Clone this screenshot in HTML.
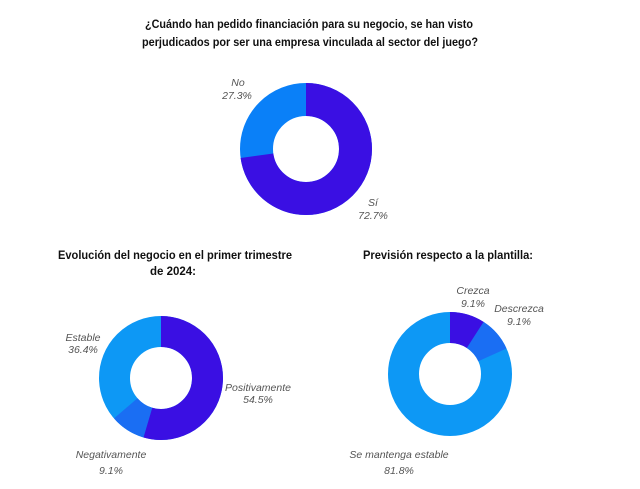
<!DOCTYPE html>
<html><head><meta charset="utf-8"><style>
html,body{margin:0;padding:0;background:#fff;}
svg{display:block}
.t{font-family:"Liberation Sans",sans-serif;font-weight:bold;font-size:11.5px;fill:#111}
.l{font-family:"Liberation Sans",sans-serif;font-style:italic;font-size:10.5px;fill:#555;text-anchor:middle}
</style></head><body>
<svg width="640" height="489" viewBox="0 0 640 489">
<rect width="640" height="489" fill="#fff"/>
<text class="t" x="145" y="28" textLength="328" lengthAdjust="spacingAndGlyphs">¿Cuándo han pedido financiación para su negocio, se han visto</text>
<text class="t" x="142" y="46" textLength="336" lengthAdjust="spacingAndGlyphs">perjudicados por ser una empresa vinculada al sector del juego?</text>
<text class="t" x="58" y="259" textLength="234" lengthAdjust="spacingAndGlyphs">Evolución del negocio en el primer trimestre</text>
<text class="t" x="173" y="275" text-anchor="middle">de 2024:</text>
<text class="t" x="363" y="259" textLength="170" lengthAdjust="spacingAndGlyphs">Previsión respecto a la plantilla:</text>

<g transform="translate(306,149) rotate(-90)" fill="none" stroke-width="33">
<circle r="49.5" stroke="#0a80f8"/>
<circle r="49.5" stroke="#3a0fe3" stroke-dasharray="226.1 400"/>
</g>
<text class="l" x="238" y="86">No</text><text class="l" x="237" y="99">27.3%</text>
<text class="l" x="373" y="206">Sí</text><text class="l" x="373" y="219">72.7%</text>

<g transform="translate(161,378) rotate(-90)" fill="none" stroke-width="31">
<circle r="46.5" stroke="#0d98f5"/>
<circle r="46.5" stroke="#1a6ef3" stroke-dasharray="0 159.2 26.6 400"/>
<circle r="46.5" stroke="#3a0fe3" stroke-dasharray="159.2 400"/>
</g>
<text class="l" x="83" y="341">Estable</text><text class="l" x="83" y="353">36.4%</text>
<text class="l" x="258" y="391">Positivamente</text><text class="l" x="258" y="403">54.5%</text>
<text class="l" x="111" y="458">Negativamente</text><text class="l" x="111" y="474">9.1%</text>

<g transform="translate(450,374) rotate(-90)" fill="none" stroke-width="31">
<circle r="46.5" stroke="#0d98f5"/>
<circle r="46.5" stroke="#1a6ef3" stroke-dasharray="0 26.6 26.6 400"/>
<circle r="46.5" stroke="#3a0fe3" stroke-dasharray="26.6 400"/>
</g>
<text class="l" x="473" y="294">Crezca</text><text class="l" x="473" y="307">9.1%</text>
<text class="l" x="519" y="312">Descrezca</text><text class="l" x="519" y="325">9.1%</text>
<text class="l" x="399" y="458">Se mantenga estable</text><text class="l" x="399" y="474">81.8%</text>
</svg>
</body></html>
